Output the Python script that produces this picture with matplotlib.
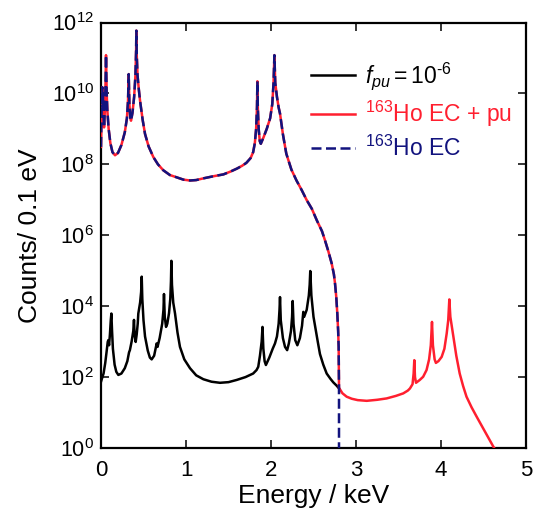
import matplotlib
matplotlib.use("Agg")
import matplotlib.pyplot as plt
from matplotlib.ticker import FixedLocator, LogFormatterSciNotation, NullLocator

plt.rcParams['font.family'] = ['Liberation Sans', 'DejaVu Sans']
plt.rcParams['mathtext.fontset'] = 'custom'
plt.rcParams['mathtext.rm'] = 'Liberation Sans'
plt.rcParams['mathtext.it'] = 'Liberation Sans:italic'
plt.rcParams['mathtext.bf'] = 'Liberation Sans:bold'

# ---- data (energy in keV, counts per 0.1 eV) ----
ec_energy = [0.000, 0.005, 0.010, 0.015, 0.020, 0.025, 0.030, 0.036, 0.045, 0.052,
             0.056, 0.059, 0.062, 0.067, 0.075, 0.090, 0.110, 0.135, 0.165, 0.200,
             0.240, 0.280, 0.305, 0.318, 0.326, 0.334, 0.345, 0.353, 0.370, 0.390,
             0.405, 0.413, 0.416, 0.420, 0.430, 0.445, 0.459, 0.490, 0.518, 0.560,
             0.616, 0.670, 0.733, 0.810, 0.890, 0.970, 1.047, 1.120, 1.200, 1.320,
             1.440, 1.520, 1.600, 1.660, 1.710, 1.760, 1.790, 1.810, 1.825, 1.835,
             1.840, 1.845, 1.855, 1.868, 1.880, 1.910, 1.950, 1.990, 2.015, 2.030,
             2.040, 2.050, 2.070, 2.090, 2.106, 2.140, 2.180, 2.240, 2.300, 2.360,
             2.420, 2.480, 2.540, 2.600, 2.635, 2.675, 2.714, 2.740, 2.753, 2.768,
             2.780, 2.790, 2.796, 2.800, 2.800]
ec_counts = [3.1e8, 2.0e9, 8.0e9, 1.5e10, 4.0e9, 1.0e10, 2.5e9, 1.1e9, 3.2e9, 1.3e10,
             4.0e10, 1.2e11, 4.0e10, 1.0e10, 3.2e9, 1.0e9, 4.0e8, 2.2e8, 1.8e8, 2.1e8,
             3.5e8, 8.0e8, 2.0e9, 6.3e9, 3.5e10, 5.0e9, 2.0e9, 1.7e9, 2.8e9, 8.0e9,
             3.2e10, 1.6e11, 5.9e11, 1.3e11, 3.2e10, 1.3e10, 6.3e9, 1.8e9, 7.2e8, 3.2e8,
             1.6e8, 1.0e8, 6.8e7, 5.0e7, 4.3e7, 3.7e7, 3.5e7, 3.6e7, 4.0e7, 4.6e7,
             5.2e7, 6.2e7, 7.6e7, 9.1e7, 1.1e8, 1.5e8, 2.2e8, 4.0e8, 1.0e9, 4.0e9,
             2.2e10, 4.0e9, 1.0e9, 4.5e8, 3.8e8, 5.6e8, 1.0e9, 2.0e9, 5.0e9, 2.0e10,
             1.2e11, 2.0e10, 8.0e9, 4.0e9, 2.7e9, 7.1e8, 2.0e8, 7.1e7, 3.5e7, 1.9e7,
             9.8e6, 5.6e6, 2.6e6, 1.3e6, 7.2e5, 3.5e5, 1.6e5, 7.9e4, 4.4e4, 1.8e4,
             6.2e3, 2.0e3, 7.1e2, 5.0e1, 5.0e-1]

pu_energy = [0.000, 0.010, 0.030, 0.050, 0.065, 0.079, 0.086, 0.095, 0.105, 0.115,
             0.122, 0.130, 0.140, 0.160, 0.180, 0.204, 0.240, 0.280, 0.310, 0.330,
             0.340, 0.360, 0.380, 0.388, 0.395, 0.408, 0.420, 0.432, 0.439, 0.460,
             0.472, 0.479, 0.486, 0.500, 0.518, 0.550, 0.575, 0.596, 0.625, 0.655,
             0.665, 0.690, 0.720, 0.735, 0.741, 0.750, 0.765, 0.780, 0.800, 0.815,
             0.823, 0.828, 0.835, 0.850, 0.871, 0.900, 0.929, 0.980, 1.047, 1.120,
             1.204, 1.300, 1.400, 1.500, 1.596, 1.700, 1.790, 1.830, 1.850, 1.870,
             1.890, 1.900, 1.910, 1.925, 1.940, 1.980, 2.020, 2.047, 2.070, 2.090,
             2.100, 2.106, 2.115, 2.140, 2.165, 2.190, 2.210, 2.235, 2.248, 2.255,
             2.265, 2.285, 2.310, 2.340, 2.365, 2.380, 2.390, 2.420, 2.445, 2.455,
             2.462, 2.475, 2.500, 2.518, 2.550, 2.576, 2.615, 2.655, 2.700, 2.733,
             2.770, 2.800]
pu_counts = [74, 89, 126, 251, 500, 980, 1100, 790, 1600, 4000,
             6200, 2000, 630, 224, 141, 115, 126, 178, 282, 500,
             575, 1000, 2000, 4100, 1600, 980, 1600, 3200, 6200, 12600,
             25000, 68000, 16000, 4000, 1400, 560, 355, 316, 400, 890,
             710, 1260, 3200, 7900, 22000, 5000, 2600, 3200, 6300, 15800,
             50000, 190000, 40000, 12600, 6200, 1800, 710, 316, 178, 112,
             87, 74, 69, 72, 83, 100, 126, 158, 195, 400,
             1000, 2600, 630, 280, 219, 355, 630, 890, 1400, 3200,
             7900, 18000, 4000, 1260, 710, 575, 890, 2000, 5000, 14000,
             3200, 1100, 790, 1260, 2800, 6900, 5000, 7900, 20000, 40000,
             98000, 20000, 5000, 2800, 1000, 447, 224, 126, 89, 71,
             58, 48]

tail_energy = [2.800, 2.840, 2.890, 2.950, 3.020, 3.126, 3.250, 3.360, 3.470, 3.556,
               3.610, 3.635, 3.665, 3.678, 3.686, 3.694, 3.706, 3.750, 3.790, 3.830,
               3.860, 3.880, 3.894, 3.905, 3.925, 3.940, 3.970, 4.008, 4.040, 4.067,
               4.085, 4.098, 4.110, 4.145, 4.180, 4.220, 4.260, 4.300, 4.360, 4.420,
               4.520, 4.615, 4.650]
tail_counts = [50, 35, 28, 24.5, 22.4, 21.4, 22.9, 25, 29.5, 34.7,
               41.7, 47.9, 63, 126, 300, 100, 69, 83, 102, 158,
               316, 790, 3600, 790, 316, 251, 282, 372, 630, 1700,
               4000, 15500, 5000, 1400, 400, 126, 56, 28, 14, 7.6,
               2.8, 1.1, 0.8]

xticks = [0, 1, 2, 3, 4, 5]
yticks = [1e0, 1e2, 1e4, 1e6, 1e8, 1e10, 1e12]
labels = [r'$f_{pu}\mathdefault{=10^{\text{-}6}}$', r'$\mathdefault{^{163}}$Ho EC + pu',
          r'$\mathdefault{^{163}}$Ho EC']

RED = '#ff1f2f'
NAVY = '#12137e'

fig = plt.figure(figsize=(5.38, 5.15), dpi=100)
ax = fig.add_axes([101/538, 1 - 448/515, 425/538, (448 - 22.5)/515])

red_x = ec_energy[:-1] + tail_energy[1:]
red_y = ec_counts[:-1] + tail_counts[1:]

l_black, = ax.plot(pu_energy, pu_counts, color='black', lw=1.8, zorder=3)
l_red, = ax.plot(red_x, red_y, color=RED, lw=1.8, zorder=4)
l_blue, = ax.plot(ec_energy, ec_counts, color=NAVY, lw=1.8, zorder=5,
                  dashes=(4.0, 1.8))

ax.set_yscale('log')
ax.set_xlim(0, 5)
ax.set_ylim(1e0, 1e12)
ax.xaxis.set_major_locator(FixedLocator(xticks))
ax.yaxis.set_major_locator(FixedLocator(yticks))
ax.yaxis.set_minor_locator(NullLocator())
ax.yaxis.set_major_formatter(LogFormatterSciNotation())
ax.tick_params(direction='in', length=6, width=1.1, top=True, right=True)
ax.tick_params(axis='x', labelsize=16, pad=9)
ax.tick_params(axis='y', labelsize=15.5, pad=5)
for s in ax.spines.values():
    s.set_linewidth(1.6)

ax.set_xlabel('Energy / keV', fontsize=19, labelpad=2)
ax.set_ylabel('Counts/ 0.1 eV', fontsize=19, labelpad=7)

leg = ax.legend([l_black, l_red, l_blue], labels, loc='upper left',
                bbox_to_anchor=(0.495, 0.911), frameon=False, fontsize=16.5,
                handlelength=1.92, handletextpad=0.44, labelspacing=0.29,
                borderaxespad=0, borderpad=0)
for t, c in zip(leg.get_texts(), ['black', RED, NAVY]):
    t.set_color(c)

fig.savefig('out.png', dpi=100)
